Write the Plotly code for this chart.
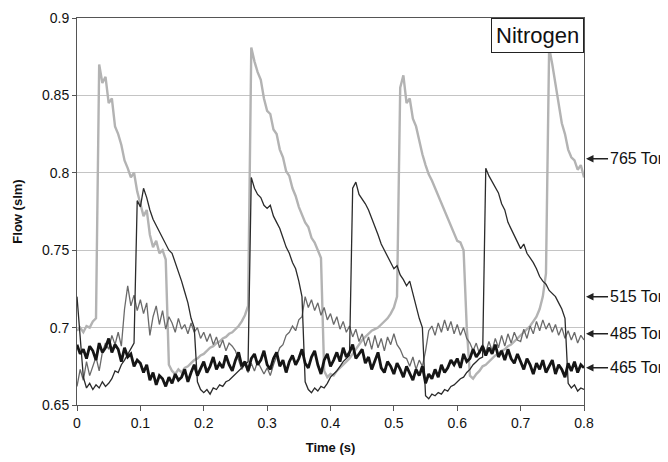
"""Nitrogen flow pulses at four inlet pressures (flow vs time)."""

import plotly.graph_objects as go

# time grid (s), 5 ms sampling
TIME_S = [round(i * 0.005, 3) for i in range(161)]

# 765 Torr (light grey)
FLOW_765 = [
    0.698, 0.700, 0.697, 0.701, 0.700, 0.704, 0.706, 0.870, 0.858, 0.862,
    0.845, 0.848, 0.830, 0.825, 0.818, 0.808, 0.803, 0.797, 0.800, 0.788,
    0.780, 0.772, 0.776, 0.760, 0.752, 0.756, 0.748, 0.750, 0.744, 0.676,
    0.672, 0.670, 0.673, 0.671, 0.674, 0.675, 0.677, 0.679, 0.680, 0.682,
    0.683, 0.685, 0.687, 0.688, 0.690, 0.691, 0.693, 0.694, 0.696, 0.697,
    0.699, 0.701, 0.704, 0.708, 0.714, 0.881, 0.872, 0.865, 0.860, 0.848,
    0.840, 0.838, 0.828, 0.825, 0.815, 0.810, 0.801, 0.798, 0.790, 0.785,
    0.778, 0.773, 0.768, 0.765, 0.758, 0.755, 0.750, 0.745, 0.672, 0.668,
    0.670, 0.669, 0.672, 0.674, 0.676, 0.678, 0.680, 0.683, 0.686, 0.689,
    0.692, 0.694, 0.696, 0.698, 0.699, 0.700, 0.702, 0.704, 0.706, 0.709,
    0.713, 0.720, 0.855, 0.863, 0.845, 0.848, 0.835, 0.830, 0.820, 0.812,
    0.805, 0.799, 0.795, 0.790, 0.785, 0.780, 0.775, 0.770, 0.766, 0.760,
    0.756, 0.755, 0.750, 0.700, 0.669, 0.667, 0.670, 0.672, 0.675, 0.676,
    0.678, 0.680, 0.682, 0.683, 0.685, 0.686, 0.688, 0.689, 0.691, 0.693,
    0.695, 0.697, 0.699, 0.701, 0.704, 0.707, 0.712, 0.720, 0.735, 0.881,
    0.870, 0.858, 0.845, 0.832, 0.825, 0.815, 0.810, 0.808, 0.802, 0.805,
    0.797,
]

# 515 Torr (dark, thin)
FLOW_515 = [
    0.720, 0.695, 0.668, 0.661, 0.664, 0.660, 0.663, 0.661, 0.665, 0.662,
    0.664, 0.667, 0.672, 0.671, 0.676, 0.679, 0.683, 0.686, 0.690, 0.782,
    0.778, 0.790, 0.784, 0.776, 0.770, 0.766, 0.762, 0.758, 0.754, 0.750,
    0.748, 0.742, 0.737, 0.730, 0.723, 0.716, 0.706, 0.700, 0.665, 0.660,
    0.658, 0.660, 0.657, 0.661, 0.660, 0.663, 0.662, 0.665, 0.666, 0.668,
    0.670, 0.672, 0.674, 0.676, 0.678, 0.797, 0.790, 0.786, 0.784, 0.779,
    0.777, 0.779, 0.772, 0.768, 0.764, 0.758, 0.752, 0.748, 0.742, 0.738,
    0.730, 0.720, 0.665, 0.660, 0.658, 0.661, 0.659, 0.662, 0.661, 0.664,
    0.668, 0.670, 0.672, 0.675, 0.678, 0.680, 0.682, 0.790, 0.794, 0.786,
    0.783, 0.780, 0.776, 0.771, 0.766, 0.760, 0.754, 0.750, 0.746, 0.742,
    0.738, 0.740, 0.734, 0.731, 0.727, 0.730, 0.722, 0.714, 0.706, 0.700,
    0.656, 0.654, 0.657, 0.656, 0.658, 0.657, 0.660, 0.659, 0.662, 0.663,
    0.665, 0.667, 0.668, 0.671, 0.673, 0.676, 0.678, 0.680, 0.681, 0.803,
    0.798, 0.794, 0.790, 0.787, 0.780, 0.776, 0.768, 0.764, 0.760, 0.755,
    0.751, 0.754, 0.748, 0.745, 0.742, 0.738, 0.733, 0.730, 0.728, 0.724,
    0.722, 0.720, 0.716, 0.712, 0.706, 0.664, 0.661, 0.663, 0.659, 0.661,
    0.660,
]

# 485 Torr (mid grey, thin)
FLOW_485 = [
    0.662, 0.673, 0.666, 0.678, 0.669, 0.675, 0.681, 0.672, 0.684, 0.690,
    0.686, 0.695, 0.689, 0.697, 0.688, 0.712, 0.727, 0.714, 0.721, 0.711,
    0.718, 0.709, 0.716, 0.695, 0.707, 0.714, 0.702, 0.711, 0.699, 0.707,
    0.703, 0.697, 0.706, 0.699, 0.702, 0.696, 0.703, 0.697, 0.700, 0.693,
    0.697, 0.691, 0.696, 0.689, 0.694, 0.687, 0.692, 0.685, 0.690, 0.688,
    0.685, 0.679, 0.673, 0.677, 0.671, 0.677, 0.672, 0.678, 0.674, 0.670,
    0.674, 0.669, 0.676, 0.681, 0.687, 0.689, 0.695, 0.697, 0.701, 0.698,
    0.705, 0.707, 0.720, 0.713, 0.718, 0.711, 0.716, 0.708, 0.713, 0.705,
    0.709, 0.702, 0.707, 0.699, 0.704, 0.697, 0.701, 0.694, 0.699, 0.691,
    0.696, 0.688, 0.694, 0.686, 0.695, 0.687, 0.693, 0.685, 0.694, 0.689,
    0.696, 0.689, 0.686, 0.681, 0.680, 0.675, 0.681, 0.673, 0.679, 0.675,
    0.685, 0.698, 0.701, 0.695, 0.703, 0.697, 0.705, 0.698, 0.704, 0.696,
    0.702, 0.695, 0.700, 0.693, 0.690, 0.685, 0.690, 0.683, 0.689, 0.684,
    0.691, 0.685, 0.693, 0.687, 0.695, 0.688, 0.696, 0.690, 0.697, 0.692,
    0.691, 0.699, 0.693, 0.701, 0.696, 0.704, 0.698, 0.705, 0.699, 0.703,
    0.697, 0.702, 0.695, 0.700, 0.693, 0.698, 0.692, 0.697, 0.690, 0.695,
    0.692,
]

# 465 Torr (black, thick)
FLOW_465 = [
    0.689, 0.683, 0.686, 0.680, 0.688, 0.685, 0.679, 0.690, 0.684, 0.687,
    0.693, 0.684, 0.689, 0.686, 0.678, 0.687, 0.681, 0.683, 0.675, 0.679,
    0.677, 0.671, 0.676, 0.666, 0.671, 0.663, 0.669, 0.667, 0.662, 0.668,
    0.664, 0.670, 0.666, 0.668, 0.673, 0.665, 0.671, 0.676, 0.669, 0.674,
    0.678, 0.671, 0.675, 0.681, 0.673, 0.677, 0.674, 0.682, 0.676, 0.672,
    0.679, 0.684, 0.675, 0.678, 0.672, 0.680, 0.683, 0.676, 0.679, 0.685,
    0.676, 0.673, 0.680, 0.684, 0.675, 0.679, 0.671, 0.678, 0.682, 0.676,
    0.680, 0.686, 0.677, 0.674, 0.681, 0.685, 0.676, 0.670, 0.679, 0.683,
    0.675, 0.679, 0.684, 0.678, 0.687, 0.681, 0.684, 0.689, 0.680, 0.683,
    0.686, 0.677, 0.681, 0.673, 0.679, 0.684, 0.674, 0.671, 0.678, 0.675,
    0.670, 0.677, 0.673, 0.668, 0.675, 0.671, 0.666, 0.673, 0.669, 0.675,
    0.664, 0.670, 0.667, 0.673, 0.668, 0.676, 0.671, 0.674, 0.679, 0.676,
    0.680, 0.674, 0.683, 0.678, 0.680, 0.686, 0.681, 0.684, 0.688, 0.682,
    0.687, 0.683, 0.689, 0.681, 0.685, 0.679, 0.686, 0.680, 0.677, 0.683,
    0.678, 0.673, 0.680, 0.676, 0.670, 0.677, 0.673, 0.679, 0.671, 0.675,
    0.679, 0.670, 0.676, 0.673, 0.668, 0.677, 0.672, 0.678, 0.671, 0.676,
    0.674,
]

# right-hand labels and the flow level each arrow points at
LABELS = ["765 Torr", "515 Torr", "485 Torr", "465 Torr"]
LABEL_Y = [0.809, 0.720, 0.696, 0.674]

Y_TICKS = [0.65, 0.7, 0.75, 0.8, 0.85, 0.9]
Y_TICK_TEXT = ["0.65", "0.7", "0.75", "0.8", "0.85", "0.9"]

FONT = "Liberation Sans, Arial, sans-serif"

fig = go.Figure()

# draw order: light grey underneath, thick black on top
series = [
    ("765 Torr", FLOW_765, "#b3b3b3", 2.4),
    ("485 Torr", FLOW_485, "#6a6a6a", 1.3),
    ("515 Torr", FLOW_515, "#2b2b2b", 1.3),
    ("465 Torr", FLOW_465, "#151515", 2.8),
]
for name, ys, color, width in series:
    fig.add_trace(
        go.Scatter(
            x=TIME_S,
            y=ys,
            mode="lines",
            line=dict(color=color, width=width),
            name=name,
            hoverinfo="x+y+name",
            showlegend=False,
        )
    )

fig.add_annotation(
    text="Nitrogen",
    xref="paper", yref="paper", x=1, y=1,
    xanchor="right", yanchor="top",
    showarrow=False,
    font=dict(size=22, color="#111", family=FONT),
    bgcolor="white", bordercolor="#222", borderwidth=1, borderpad=4,
)

for label, yv in zip(LABELS, LABEL_Y):
    fig.add_annotation(
        text=label,
        xref="paper", yref="y", x=1.004, y=yv,
        ax=22, ay=0, xanchor="left",
        showarrow=True, arrowhead=2, arrowsize=1, arrowwidth=1.5,
        arrowcolor="#222",
        font=dict(size=16, color="#111", family=FONT),
    )

# the page body adds an 8 px offset, so margins are shifted to compensate
fig.update_layout(
    width=668,
    height=462,
    margin=dict(l=69, r=92, t=10, b=65),
    paper_bgcolor="white",
    plot_bgcolor="white",
    font=dict(family=FONT, size=14, color="#111"),
    showlegend=False,
)
fig.update_xaxes(
    range=[0, 0.8],
    dtick=0.1,
    automargin=False,
    showgrid=False,
    zeroline=False,
    showline=True, linecolor="#555", linewidth=1, mirror=True,
    ticks="outside", ticklen=5, tickcolor="#555",
    title=dict(text="<b>Time (s)</b>", font=dict(size=13), standoff=13),
)
fig.update_yaxes(
    range=[0.65, 0.9],
    tickvals=Y_TICKS,
    ticktext=Y_TICK_TEXT,
    automargin=False,
    showgrid=True, gridcolor="#c4c4c4", gridwidth=1,
    zeroline=False,
    showline=True, linecolor="#555", linewidth=1, mirror=True,
    ticks="outside", ticklen=4, tickcolor="#555",
    title=dict(text="<b>Flow (slm)</b>", font=dict(size=13), standoff=16),
)

fig.write_html("out.html")
